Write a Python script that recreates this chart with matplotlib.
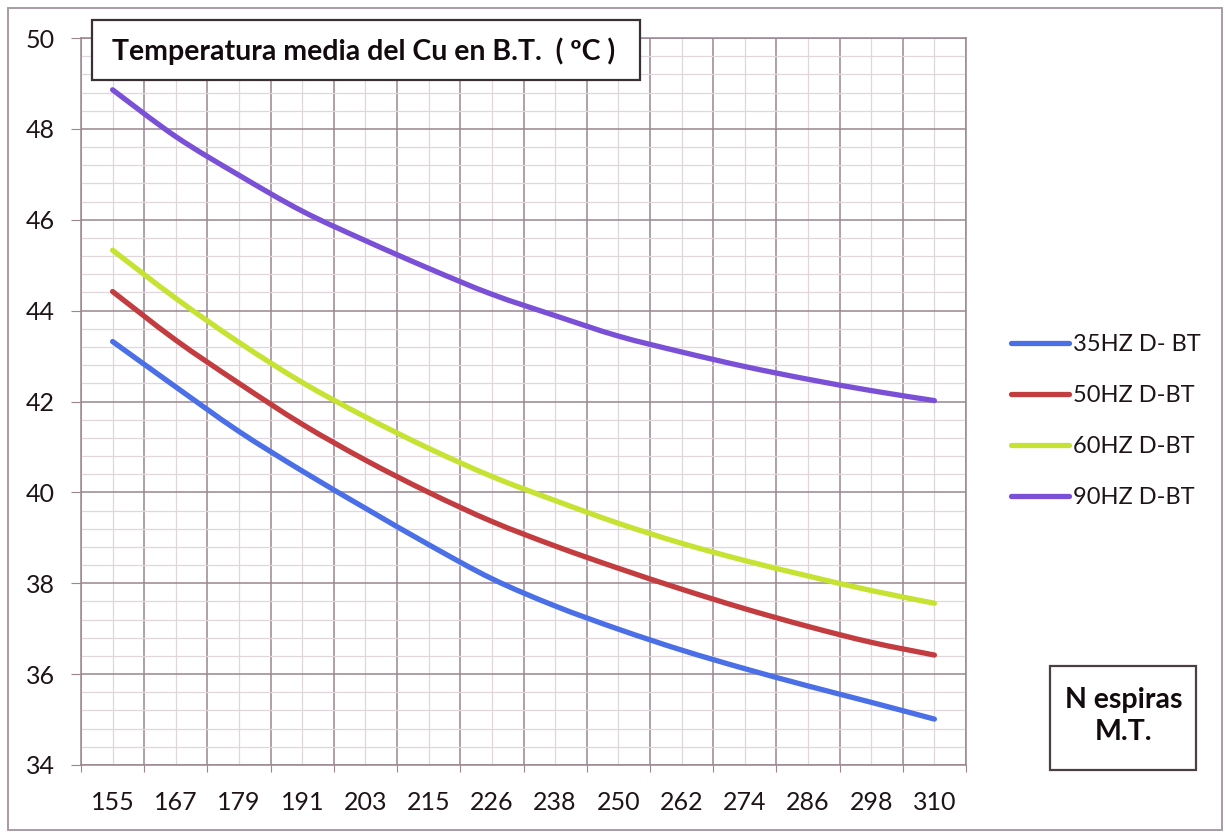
import matplotlib
matplotlib.use("Agg")
import matplotlib.pyplot as plt
from matplotlib.path import Path
from matplotlib.patches import PathPatch, Rectangle
from matplotlib.lines import Line2D
from matplotlib.ticker import FixedLocator, NullFormatter
import numpy as np

# Number of turns (category axis)
espiras = ["155", "167", "179", "191", "203", "215", "226", "238",
           "250", "262", "274", "286", "298", "310"]

# Mean copper temperature in the LV winding (ºC)
temp_35hz = [43.32, 42.32, 41.34, 40.47, 39.65, 38.85, 38.10, 37.50,
             36.99, 36.53, 36.12, 35.74, 35.38, 35.01]
temp_50hz = [44.42, 43.35, 42.40, 41.50, 40.71, 40.00, 39.36, 38.82,
             38.33, 37.87, 37.44, 37.05, 36.70, 36.42]
temp_60hz = [45.33, 44.27, 43.30, 42.42, 41.66, 40.97, 40.35, 39.82,
             39.32, 38.88, 38.50, 38.16, 37.84, 37.56]
temp_90hz = [48.86, 47.83, 46.98, 46.19, 45.54, 44.93, 44.36, 43.89,
             43.44, 43.09, 42.77, 42.49, 42.24, 42.02]

series_labels = ["35HZ D- BT", "50HZ D-BT", "60HZ D-BT", "90HZ D-BT"]
series_colors = ["#4b6fe6", "#c23c40", "#c6e232", "#7a50d6"]

FONT = "Lato"
GRID_MAJOR = "#9a8690"
GRID_MINOR = "#e0d7dc"
TXT = "#1e1418"


def smooth_path(xs, ys):
    """Cubic Bezier path through the points (spreadsheet-style smoothing)."""
    pts = np.column_stack([xs, ys]).astype(float)
    n = len(pts)
    verts = [pts[0]]
    codes = [Path.MOVETO]
    for i in range(n - 1):
        p0 = pts[i - 1] if i > 0 else pts[i]
        p1 = pts[i]
        p2 = pts[i + 1]
        p3 = pts[i + 2] if i + 2 < n else pts[i + 1]
        c1 = p1 + (p2 - p0) / 6.0
        c2 = p2 - (p3 - p1) / 6.0
        verts += [c1, c2, p2]
        codes += [Path.CURVE4] * 3
    return Path(verts, codes)


fig = plt.figure(figsize=(12.25, 8.32), dpi=100)
fig.patch.set_facecolor("white")

ax = fig.add_axes([81 / 1225, 67 / 832, 885 / 1225, 727 / 832])
n = len(espiras)
x = np.arange(n)
ax.set_xlim(-0.5, n - 0.5)
ax.set_ylim(34, 50)

# Grid: major lines between categories / every 2 ºC, minor at centres / every 0.4 ºC
ax.xaxis.set_major_locator(FixedLocator(np.arange(-0.5, n, 1.0)))
ax.xaxis.set_minor_locator(FixedLocator(x))
ax.xaxis.set_major_formatter(NullFormatter())
ax.xaxis.set_minor_formatter(plt.FixedFormatter(espiras))
ax.yaxis.set_major_locator(FixedLocator(np.arange(34, 50.1, 2)))
ax.yaxis.set_minor_locator(FixedLocator(np.arange(34, 50.01, 0.4)))

ax.grid(which="minor", color=GRID_MINOR, linewidth=0.9, zorder=0)
ax.grid(which="major", color=GRID_MAJOR, linewidth=1.1, zorder=1)
for s in ax.spines.values():
    s.set_color(GRID_MAJOR)
    s.set_linewidth(1.1)

ax.tick_params(axis="x", which="major", length=5, color=GRID_MAJOR, direction="out")
ax.tick_params(axis="x", which="minor", length=0, pad=19,
               labelsize=18, labelcolor=TXT)
ax.tick_params(axis="y", which="major", length=7, color=GRID_MAJOR, pad=12,
               labelsize=18, labelcolor=TXT)
ax.tick_params(axis="y", which="minor", length=0)
for lbl in ax.get_xticklabels(minor=True) + ax.get_yticklabels():
    lbl.set_fontfamily(FONT)

handles = []
for ys, color, label in zip([temp_35hz, temp_50hz, temp_60hz, temp_90hz],
                            series_colors, series_labels):
    patch = PathPatch(smooth_path(x, ys), facecolor="none", edgecolor=color,
                      linewidth=3.8, capstyle="round", joinstyle="round",
                      transform=ax.transData, zorder=3)
    ax.add_patch(patch)
    handles.append(Line2D([], [], color=color, linewidth=3.8,
                          solid_capstyle="round", label=label))

leg = fig.legend(handles=handles, loc="center left",
                 bbox_to_anchor=(990 / 1225, 1 - 421 / 832),
                 frameon=False, handlelength=2.45, handletextpad=0.15,
                 labelspacing=1.27, prop={"family": FONT, "size": 17})
for t in leg.get_texts():
    t.set_color(TXT)

# Title box
fig.patches.append(Rectangle((92 / 1225, 1 - 80 / 832), 548 / 1225, 60 / 832,
                             transform=fig.transFigure, facecolor="white",
                             edgecolor="#3a2f34", linewidth=1.6, zorder=5))
fig.text(112 / 1225, 1 - 51 / 832, "Temperatura media del Cu en B.T.  ( ºC )",
         ha="left", va="center", fontsize=20.5, fontweight="bold",
         family=FONT, color="#120a0e", zorder=6)

# Axis caption box
fig.patches.append(Rectangle((1050 / 1225, 1 - 770 / 832), 146 / 1225, 104 / 832,
                             transform=fig.transFigure, facecolor="white",
                             edgecolor="#4a3f44", linewidth=1.6, zorder=5))
fig.text(1124 / 1225, 1 - 716 / 832, "N espiras\nM.T.", ha="center", va="center",
         fontsize=20.5, fontweight="bold", family=FONT, color="#120a0e",
         linespacing=1.3, zorder=6)

# Chart area border
fig.patches.append(Rectangle((8 / 1225, 2 / 832), 1214 / 1225, 822 / 832,
                             transform=fig.transFigure, facecolor="none",
                             edgecolor="#a99ba3", linewidth=1.4, zorder=1))

fig.savefig("out.png", dpi=100, facecolor="white")
